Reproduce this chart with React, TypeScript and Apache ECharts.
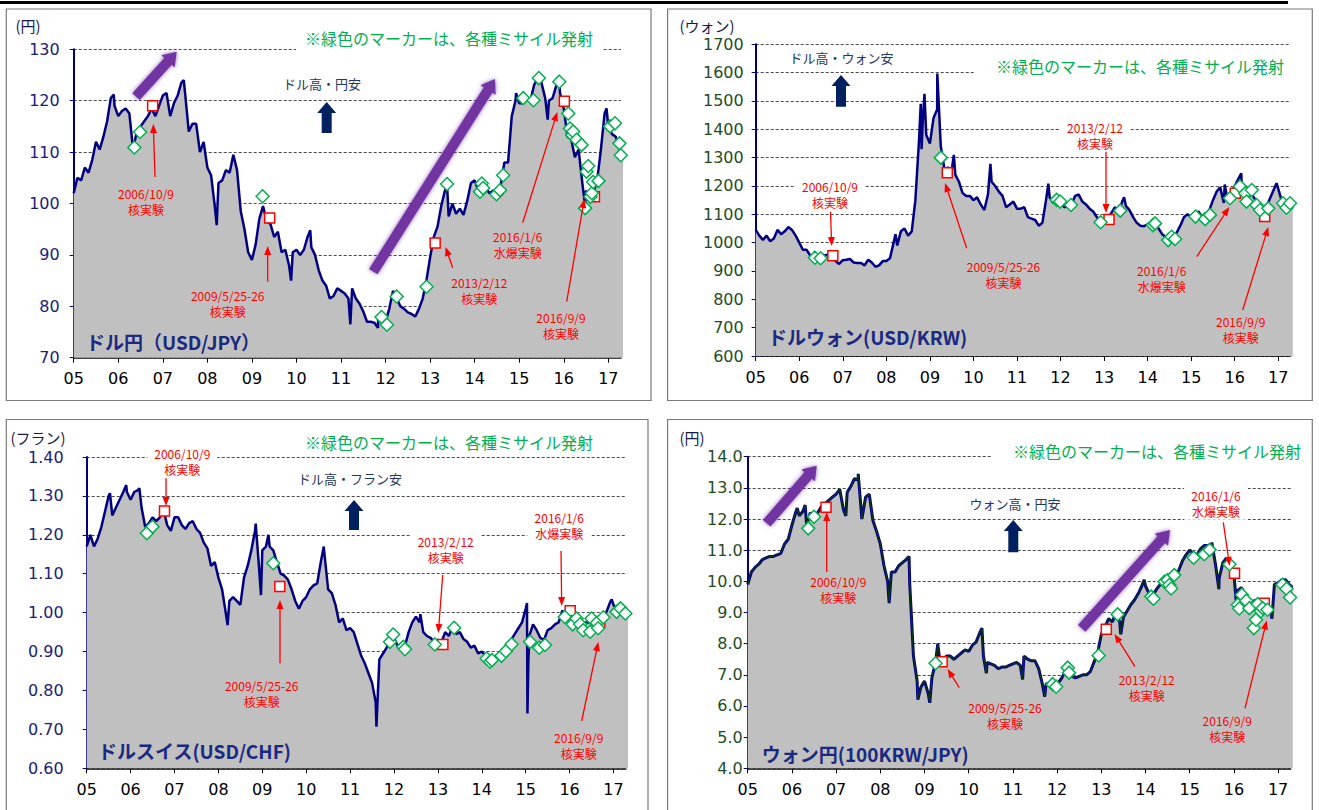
import React, { useEffect, useRef } from "react";
import * as echarts from "echarts";

// ---------------- DATA ----------------
// Monthly readings, Jan 2005 ... May 2017 (last one is clipped at the axis end)
const usdJpy = [
  102, 105, 104.5, 107, 106, 108.5, 112, 110.5, 113, 116, 120.5, 119,
  117, 118, 118.5, 117.5, 110.5, 114, 115, 116, 117, 118.5, 117, 119,
  121, 121.5, 117, 119.5, 121, 123.5, 121.5, 114, 115.5, 115.5, 110, 112,
  107, 105.5, 99.5, 104, 104.5, 106.5, 106, 109.5, 106.5, 98.5, 95, 90.5,
  89, 92, 97, 99.5, 96.5, 96, 93.5, 94.5, 90.5, 91, 88, 90.5,
  91, 90, 91, 93.5, 91.5, 90, 87, 85, 84, 81.5, 82, 83.5,
  83, 82.5, 81.5, 83.5, 81.5, 80.5, 79, 77, 77, 76.8, 77.5, 77.8,
  77, 79.5, 83, 81.5, 80, 79.5, 78.8, 78.5, 78, 79.5, 81.5, 85,
  89.5, 93.5, 95.5, 99.5, 102.5, 97.5, 100, 98, 99, 97.8, 100.5, 104,
  104.5, 102.5, 103, 103, 102, 102.5, 102, 103.5, 108, 108, 117, 120,
  119.5, 119.5, 120.5, 120, 123, 124.5, 123.5, 120.5, 120, 120.5, 123, 121.5,
  118.5, 113, 112.5, 109, 110.5, 104, 102.5, 101, 102, 104.5, 110.5, 117.5,
  115, 113.5, 113, 110.5, 110,
];
const usdJpyPeaks = [
  [2005.9, 121.2], [2007.47, 124.0], [2008.21, 95.8], [2009.88, 85.0], [2010.31, 94.8],
  [2011.21, 76.5], [2011.83, 75.8], [2013.38, 103.7], [2014.93, 121.5], [2015.44, 125.5],
  [2015.64, 116.3], [2015.9, 123.5], [2016.48, 99.5], [2016.96, 118.5],
];

const usdKrw = [
  1045, 1025, 1010, 1025, 1005, 1015, 1045, 1030, 1040, 1055, 1045, 1025,
  1000, 975, 975, 955, 950, 955, 960, 955, 958, 955, 935, 925,
  938, 940, 942, 930, 928, 928, 920, 940, 930, 915, 920, 935,
  935, 945, 1000, 990, 1040, 1050, 1025, 1040, 1150, 1360, 1420, 1380,
  1350, 1440, 1470, 1340, 1260, 1265, 1255, 1240, 1215, 1175, 1165, 1165,
  1150, 1160, 1135, 1115, 1170, 1215, 1200, 1180, 1165, 1125, 1135, 1145,
  1120, 1120, 1125, 1090, 1085, 1080, 1060, 1070, 1150, 1160, 1140, 1150,
  1150, 1125, 1130, 1135, 1165, 1170, 1145, 1135, 1120, 1110, 1090, 1075,
  1065, 1085, 1105, 1125, 1110, 1145, 1130, 1115, 1090, 1070, 1060, 1058,
  1065, 1070, 1075, 1050, 1030, 1020, 1015, 1025, 1035, 1060, 1090, 1100,
  1090, 1100, 1110, 1090, 1095, 1115, 1150, 1180, 1195, 1140, 1150, 1175,
  1200, 1225, 1170, 1150, 1170, 1165, 1145, 1110, 1105, 1135, 1165, 1195,
  1190, 1145, 1125, 1135, 1130,
];
const usdKrwPeaks = [
  [2008.21, 1030], [2008.79, 1490], [2008.81, 1330], [2008.875, 1525], [2009.17, 1597],
  [2009.55, 1310], [2010.39, 1278], [2011.72, 1208], [2013.46, 1160], [2014.52, 1008],
  [2015.77, 1205], [2016.15, 1245], [2016.96, 1210],
];

const usdChf = [
  1.17, 1.2, 1.17, 1.19, 1.22, 1.26, 1.3, 1.25, 1.27, 1.29, 1.31, 1.31,
  1.29, 1.31, 1.315, 1.27, 1.22, 1.23, 1.245, 1.235, 1.245, 1.265, 1.225, 1.21,
  1.245, 1.245, 1.225, 1.215, 1.23, 1.235, 1.215, 1.205, 1.18, 1.165, 1.12, 1.13,
  1.09, 1.06, 1.0, 1.03, 1.04, 1.03, 1.02, 1.09, 1.12, 1.16, 1.21, 1.13,
  1.16, 1.17, 1.17, 1.16, 1.13, 1.1, 1.095, 1.085, 1.06, 1.03, 1.01, 1.03,
  1.04, 1.06, 1.07, 1.075, 1.13, 1.15, 1.06, 1.05, 1.02, 0.975, 0.985, 0.955,
  0.96, 0.95, 0.92, 0.89, 0.87, 0.845, 0.82, 0.77, 0.88, 0.895, 0.91, 0.935,
  0.935, 0.915, 0.92, 0.915, 0.95, 0.975, 0.99, 0.975, 0.95, 0.94, 0.935, 0.925,
  0.93, 0.925, 0.95, 0.94, 0.965, 0.945, 0.95, 0.932, 0.925, 0.91, 0.915, 0.895,
  0.9, 0.89, 0.88, 0.88, 0.89, 0.895, 0.9, 0.91, 0.93, 0.945, 0.96, 0.975,
  1.01, 0.94, 0.97, 0.955, 0.935, 0.93, 0.955, 0.96, 0.97, 0.975, 1.005, 0.995,
  1.005, 1.0, 0.98, 0.965, 0.975, 0.975, 0.975, 0.965, 0.97, 0.985, 1.0, 1.025,
  1.02, 1.005, 1.0, 0.995, 0.99,
];
const usdChfPeaks = [
  [2005.53, 1.307], [2005.9, 1.328], [2006.2, 1.32], [2008.21, 0.968], [2008.85, 1.229],
  [2008.97, 1.045], [2009.14, 1.2], [2010.4, 1.17], [2011.6, 0.707], [2012.6, 0.996],
  [2013.37, 0.975], [2015.03, 1.025], [2015.04, 0.741], [2015.06, 0.87], [2016.96, 1.034],
];

const krwJpy = [
  9.9, 10.3, 10.45, 10.55, 10.7, 10.75, 10.8, 10.8, 10.85, 10.9, 11.2, 11.35,
  11.8, 12.2, 12.1, 12.25, 11.8, 12.2, 12.05, 12.2, 12.4, 12.5, 12.6, 12.7,
  12.8, 12.95, 12.3, 12.85, 13.05, 13.3, 13.25, 12.0, 12.7, 12.8, 11.95, 11.6,
  11.2, 10.5, 10.0, 10.3, 10.3, 10.5, 10.6, 10.7, 9.9, 7.6, 6.8, 6.6,
  6.8, 6.4, 6.9, 7.4, 7.6, 7.5, 7.6, 7.6, 7.5, 7.6, 7.7, 7.8,
  7.75, 7.95, 8.05, 8.35, 7.6, 7.4, 7.35, 7.3, 7.2, 7.25, 7.25, 7.3,
  7.35, 7.4, 7.3, 7.6, 7.5, 7.45, 7.45, 7.2, 6.7, 6.7, 6.75, 6.75,
  6.7, 6.85, 7.05, 7.25, 6.95, 6.9, 6.95, 7.0, 7.0, 7.1, 7.4, 7.7,
  8.3, 8.55, 8.8, 8.7, 9.0, 8.7, 8.85, 9.05, 9.25, 9.4, 9.6, 9.85,
  9.85, 9.6, 9.55, 9.75, 9.9, 10.0, 9.95, 10.05, 10.15, 10.35, 10.65, 10.85,
  11.0, 10.9, 10.85, 11.05, 11.15, 11.15, 10.9, 10.55, 10.1, 10.6, 10.75, 10.55,
  10.25, 9.7, 9.8, 9.6, 9.4, 9.35, 9.4, 9.2, 9.3, 9.25, 9.05, 9.9,
  9.95, 10.05, 10.05, 9.9, 9.8,
];
const krwJpyPeaks = [
  [2006.12, 12.35], [2006.3, 12.45], [2007.22, 12.1], [2007.5, 13.45], [2008.2, 9.3],
  [2008.65, 10.8], [2008.85, 6.2], [2009.12, 6.1], [2009.3, 8.0], [2010.3, 8.5],
  [2010.4, 7.05], [2011.22, 6.85], [2011.72, 6.3], [2012.25, 7.4], [2013.44, 8.3],
  [2013.97, 10.05], [2015.5, 11.25], [2015.66, 9.75], [2016.05, 9.4], [2016.86, 8.8],
];

// North Korean nuclear tests (red squares)
const nuclearDates = ["2006-10-09", "2009-05-25", "2013-02-12", "2016-01-06", "2016-09-09"];
const usdJpyNuclear = [119.0, 97.2, 92.3, 119.9, 101.3];
const usdKrwNuclear = [954, 1247, 1082, 1174, 1092];
const usdChfNuclear = [1.261, 1.067, 0.918, 1.005, 0.975];
const krwJpyNuclear = [12.38, 7.42, 8.46, 10.26, 9.3];

// Missile launches (green diamonds), [year, value]
const usdJpyMissiles = [
  [2006.36, 110.9], [2006.49, 113.9], [2009.24, 101.4], [2011.91, 77.9], [2012.03, 76.4],
  [2012.25, 81.9], [2012.92, 83.8], [2013.38, 103.8], [2014.12, 102.3], [2014.16, 103.9],
  [2014.19, 103.0], [2014.49, 101.8], [2014.57, 102.6], [2014.64, 105.5], [2015.09, 120.5],
  [2015.32, 120.1], [2015.44, 124.4], [2015.9, 123.7], [2016.1, 117.5], [2016.14, 114.6],
  [2016.19, 113.3], [2016.21, 114.0], [2016.29, 112.4], [2016.4, 111.4], [2016.48, 99.1],
  [2016.51, 106.2], [2016.55, 107.3], [2016.6, 101.3], [2016.63, 102.0], [2016.66, 104.2],
  [2016.78, 104.4], [2017.04, 115.0], [2017.15, 115.6], [2017.25, 111.7], [2017.28, 109.4],
];
const usdKrwMissiles = [
  [2006.36, 947], [2006.49, 945], [2009.25, 1300], [2011.91, 1151], [2011.99, 1145],
  [2012.24, 1133], [2012.92, 1072], [2013.37, 1113], [2014.12, 1062], [2014.17, 1068],
  [2014.47, 1009], [2014.55, 1021], [2014.63, 1013], [2015.1, 1092], [2015.32, 1083],
  [2015.43, 1098], [2015.89, 1157], [2016.12, 1198], [2016.24, 1174], [2016.27, 1145],
  [2016.39, 1186], [2016.5, 1133], [2016.58, 1115], [2016.77, 1121], [2017.11, 1139],
  [2017.19, 1123], [2017.27, 1139],
];
const usdChfMissiles = [
  [2006.37, 1.204], [2006.5, 1.221], [2009.25, 1.127], [2011.91, 0.925], [2011.98, 0.944],
  [2012.21, 0.912], [2012.25, 0.906], [2012.93, 0.918], [2013.37, 0.961], [2014.11, 0.882],
  [2014.19, 0.874], [2014.23, 0.878], [2014.45, 0.889], [2014.55, 0.901], [2014.68, 0.919],
  [2015.1, 0.925], [2015.31, 0.91], [2015.44, 0.917], [2015.89, 0.989], [2016.07, 0.97],
  [2016.16, 0.985], [2016.24, 0.97], [2016.31, 0.955], [2016.47, 0.951], [2016.5, 0.985],
  [2016.62, 0.974], [2016.65, 0.96], [2016.77, 0.988], [2017.07, 1.002], [2017.16, 1.011],
  [2017.27, 0.998],
];
const krwJpyMissiles = [
  [2006.37, 11.7], [2006.5, 12.07], [2009.25, 7.37], [2011.9, 6.7], [2011.98, 6.62],
  [2012.24, 7.23], [2012.27, 7.07], [2012.94, 7.62], [2013.37, 8.94], [2014.13, 9.51],
  [2014.18, 9.44], [2014.43, 9.99], [2014.5, 10.04], [2014.54, 9.88], [2014.58, 9.77],
  [2014.65, 10.2], [2015.09, 10.76], [2015.33, 10.87], [2015.45, 11.01], [2015.9, 10.55],
  [2016.09, 9.25], [2016.12, 9.13], [2016.18, 9.57], [2016.28, 9.38], [2016.35, 9.14],
  [2016.45, 8.5], [2016.5, 8.77], [2016.54, 9.27], [2016.61, 9.04], [2016.65, 9.14],
  [2016.76, 9.09], [2017.1, 9.89], [2017.19, 9.76], [2017.27, 9.48],
];

const yearTicks = [2005, 2006, 2007, 2008, 2009, 2010, 2011, 2012, 2013, 2014, 2015, 2016, 2017];

const missileNote = "※緑色のマーカーは、各種ミサイル発射";
const testDates = ["2006/10/9", "2009/5/25-26", "2013/2/12", "2016/1/6", "2016/9/9"];
const testKinds = ["核実験", "核実験", "核実験", "水爆実験", "核実験"];
const testWidths = [62, 80, 62, 56, 56];

// ---------------- HELPERS ----------------
const JP = '"Noto Sans CJK JP", "Noto Sans", sans-serif';
const NUM = '"DejaVu Sans", sans-serif';
const X_MIN = 2005;
const X_MAX = 2017.285;

function toYear(d: string) {
  const [y, m, dd] = d.split("-").map(Number);
  return y + (m - 1) / 12 + (dd - 1) / 365;
}
function buildLine(monthly: number[], peaks: number[][]) {
  const pts = monthly.map((v, i) => [X_MIN + i / 12, v]);
  return pts.concat(peaks).sort((a, b) => a[0] - b[0]);
}
function arrowPoly(x1: number, y1: number, x2: number, y2: number, sw: number, hw: number, hl: number) {
  const dx = x2 - x1, dy = y2 - y1, len = Math.hypot(dx, dy);
  const ux = dx / len, uy = dy / len, px = -uy, py = ux;
  const bx = x2 - ux * hl, by = y2 - uy * hl;
  return [
    [x1 + (px * sw) / 2, y1 + (py * sw) / 2],
    [bx + (px * sw) / 2, by + (py * sw) / 2],
    [bx + (px * hw) / 2, by + (py * hw) / 2],
    [x2, y2],
    [bx - (px * hw) / 2, by - (py * hw) / 2],
    [bx - (px * sw) / 2, by - (py * sw) / 2],
    [x1 - (px * sw) / 2, y1 - (py * sw) / 2],
  ];
}
function txt(x: number, y: number, text: string, o: any = {}) {
  return {
    type: "text", x, y, z: 30, silent: true,
    style: {
      text, fill: o.fill || "#000", fontSize: o.size || 13, fontFamily: o.family || JP,
      fontWeight: o.weight || "normal", align: o.align || "center", verticalAlign: "middle",
      backgroundColor: o.bg || undefined, padding: o.pad || undefined,
    },
  };
}
function poly(points: number[][], fill: string, extra: any = {}) {
  return { type: "polygon", z: 25, silent: true, shape: { points }, style: { fill, ...extra } };
}
function border(x: number, y: number, w: number, h: number) {
  return { type: "rect", z: 40, silent: true, shape: { x, y, width: w, height: h }, style: { fill: "none", stroke: "#7a7a7a", lineWidth: 1.2 } };
}

// ---------------- PANELS ----------------
const panels = [
  {
    grid: { left: 73.7, top: 49.3, width: 547.3, height: 308.4 },
    min: 70, max: 130, interval: 10, fmt: (v: number) => String(Math.round(v)), yColor: "#1c1c7c", yMargin: 14,
    line: buildLine(usdJpy, usdJpyPeaks), nuclear: usdJpyNuclear, missiles: usdJpyMissiles, inner: false,
    unit: { x: 28, y: 25, t: "(円)" },
    note: { x: 449, y: 38, pad: [6, 9, 6, 9] },
    dir: { x: 322, y: 83, t: "ドル高・円安" },
    upArrow: { x: 326.7, top: 102, bottom: 133 },
    title: { x: 86, y: 341.7, t: "ドル円（USD/JPY）" },
    labels: [[146, 194, false], [227.7, 296, false], [479.3, 283.3, false], [517.7, 236.7, false], [561, 317.7, false]],
    arrows: [[155, 177, 153.3, 124], [267.7, 281.7, 267.7, 246], [452.7, 267.7, 445.5, 247], [522.7, 222.7, 557.3, 112], [566.7, 301.7, 584.3, 199]],
    purple: [[136, 96.7, 176.7, 51.7], [373.3, 271.7, 495, 79]],
  },
  {
    grid: { left: 755.7, top: 44.3, width: 535, height: 311.7 },
    min: 600, max: 1700, interval: 100, fmt: (v: number) => String(Math.round(v)), yColor: "#1e4d1e", yMargin: 12,
    line: buildLine(usdKrw, usdKrwPeaks), nuclear: usdKrwNuclear, missiles: usdKrwMissiles, inner: false,
    unit: { x: 707, y: 25, t: "(ウォン)" },
    note: { x: 1136, y: 65.7, pad: [3, 14, 3, 22] },
    dir: { x: 841.5, y: 57.7, t: "ドル高・ウォン安" },
    upArrow: { x: 841, top: 75, bottom: 106.7 },
    title: { x: 768, y: 336.7, t: "ドルウォン(USD/KRW)" },
    labels: [[830, 186.7, true], [1003.5, 266.7, false], [1095, 127.7, true], [1161.7, 270.7, false], [1240.7, 321.7, false]],
    arrows: [[830.5, 211.7, 831.7, 246], [966.7, 248.3, 945, 183], [1106, 149, 1106, 213], [1196.7, 256.7, 1229.3, 207], [1242.7, 310, 1268.3, 227]],
    purple: [],
  },
  {
    grid: { left: 86.7, top: 457, width: 539.3, height: 311.3 },
    min: 0.6, max: 1.4, interval: 0.1, fmt: (v: number) => v.toFixed(2), yColor: "#1c1c7c", yMargin: 23,
    line: buildLine(usdChf, usdChfPeaks), nuclear: usdChfNuclear, missiles: usdChfMissiles, inner: false,
    unit: { x: 38, y: 437, t: "(フラン)" },
    note: { x: 449, y: 441.7, pad: [2, 8, 2, 8] },
    dir: { x: 350, y: 478.3, t: "ドル高・フラン安" },
    upArrow: { x: 354, top: 500, bottom: 530 },
    title: { x: 98, y: 750, t: "ドルスイス(USD/CHF)" },
    labels: [[182.3, 454.3, true], [261.7, 685.7, false], [445.7, 541.7, true], [559.3, 517.7, true], [578.7, 738.3, false]],
    arrows: [[166, 477, 166, 506], [280, 663.3, 280, 600], [442.7, 575, 438.3, 633], [561, 551, 561.7, 606], [581.7, 721, 598.3, 642]],
    purple: [],
  },
  {
    grid: { left: 747.7, top: 456.7, width: 543, height: 311.6 },
    min: 4, max: 14, interval: 1, fmt: (v: number) => v.toFixed(1), yColor: "#1e4d1e", yMargin: 5,
    line: buildLine(krwJpy, krwJpyPeaks), nuclear: krwJpyNuclear, missiles: krwJpyMissiles, inner: true,
    unit: { x: 692, y: 437, t: "(円)" },
    note: { x: 1150, y: 451, pad: [3, 8, 3, 22] },
    dir: { x: 1015, y: 503.3, t: "ウォン高・円安" },
    upArrow: { x: 1013.3, top: 520, bottom: 552.3 },
    title: { x: 761.7, y: 753.3, t: "ウォン円(100KRW/JPY)" },
    labels: [[838.3, 581.7, false], [1005, 708.3, false], [1146.7, 680, false], [1216, 495.7, true], [1227.3, 721, false]],
    arrows: [[826.7, 572, 826.7, 512], [959.3, 687.7, 947.5, 669], [1135, 666.7, 1114.5, 634], [1223.3, 522.3, 1229.6, 566], [1245, 708.3, 1266.7, 620.5]],
    purple: [[766.7, 523.3, 816.7, 465.7], [1081.7, 628.3, 1170, 530]],
  },
];

function buildOption() {
  const xLabel = (v: number) => (Math.abs(v - Math.round(v)) > 0.01 ? "" : String(Math.round(v) % 100).padStart(2, "0"));
  const nuclearYears = nuclearDates.map(toYear);

  const grid = panels.map((p) => ({ ...p.grid, containLabel: false, outerBoundsMode: "none" }));
  const xAxis = panels.map((p, i) => ({
    type: "value", gridIndex: i, min: X_MIN, max: X_MAX, interval: 1,
    axisLine: { show: true, onZero: false, lineStyle: { color: "#000", width: 1.5 } },
    axisTick: { show: true, inside: false, length: 5, customValues: yearTicks, lineStyle: { color: "#000", width: 1 } },
    axisLabel: { show: true, customValues: yearTicks, formatter: xLabel, color: "#000", fontSize: 16, fontFamily: NUM, margin: 13, hideOverlap: false },
    splitLine: { show: false },
  }));
  const yAxis = panels.map((p, i) => ({
    type: "value", gridIndex: i, min: p.min, max: p.max, interval: p.interval,
    axisLine: { show: true, onZero: false, lineStyle: { color: "#000080", width: 2 } },
    axisTick: { show: true, inside: false, length: 4, lineStyle: { color: "#000080", width: 1 } },
    axisLabel: { show: true, formatter: p.fmt, color: p.yColor, fontSize: 16, fontFamily: NUM, margin: p.yMargin, hideOverlap: false },
    splitLine: { show: true, lineStyle: { color: "#4a4a4a", width: 1, type: [3, 2] } },
  }));

  const series: any[] = [];
  panels.forEach((p, i) => {
    series.push({
      type: "line", xAxisIndex: i, yAxisIndex: i, data: p.line, symbol: "none", silent: true, clip: true, z: 2,
      lineStyle: { color: "#000080", width: p.inner ? 3 : 2.5 },
      areaStyle: { color: "#c0c0c0", opacity: 1, origin: "start" },
    });
    if (p.inner) {
      series.push({
        type: "line", xAxisIndex: i, yAxisIndex: i, data: p.line, symbol: "none", silent: true, clip: true, z: 3,
        lineStyle: { color: "#0e3a12", width: 1.1 },
      });
    }
    series.push({
      type: "scatter", xAxisIndex: i, yAxisIndex: i, symbol: "rect", symbolSize: 10, silent: true, z: 4,
      data: p.nuclear.map((v, k) => [nuclearYears[k], v]),
      itemStyle: { color: "#fff", borderColor: "#ff0000", borderWidth: 1.5, opacity: 1 },
    });
    series.push({
      type: "scatter", xAxisIndex: i, yAxisIndex: i, symbol: "diamond", symbolSize: 13, silent: true, z: 5,
      data: p.missiles,
      itemStyle: { color: "#fff", borderColor: "#00b050", borderWidth: 1.5, opacity: 1 },
    });
  });

  const G: any[] = [];
  G.push({ type: "rect", z: 40, silent: true, shape: { x: 0, y: 1, width: 1288, height: 3 }, style: { fill: "#000" } });
  G.push(border(6.3, 9, 644.7, 391.5));
  G.push(border(667.6, 9, 644.7, 391.5));
  G.push(border(6.3, 419.5, 641.7, 400));
  G.push(border(667.6, 419.5, 644.7, 400));

  panels.forEach((p) => {
    G.push(txt(p.unit.x, p.unit.y, p.unit.t, { size: 15, fill: "#1a1a4a" }));
    G.push(txt(p.note.x, p.note.y, missileNote, { size: 16, fill: "#00b050", bg: "#fff", pad: p.note.pad }));
    G.push(txt(p.dir.x, p.dir.y, p.dir.t, { size: 13, fill: "#1f3864" }));
    G.push(txt(p.title.x, p.title.y, p.title.t, { size: 19, weight: "bold", fill: "#1a2a80", align: "left" }));
    const a = p.upArrow;
    G.push(poly(arrowPoly(a.x, a.bottom, a.x, a.top, 10, 19, 11), "#002060"));
    p.purple.forEach((q) => {
      G.push(poly(arrowPoly(q[0], q[1], q[2], q[3], 10, 18, 13), "#7030a0", { shadowBlur: 4, shadowColor: "rgba(112,48,160,0.8)", opacity: 0.95 }));
    });
    p.labels.forEach((l, k) => {
      const cx = l[0] as number, y1 = (l[1] as number) - 0.5;
      if (l[2]) {
        const w = testWidths[k] + 8;
        G.push({ type: "rect", z: 28, silent: true, shape: { x: cx - w / 2, y: y1 - 8.5, width: w, height: 33 }, style: { fill: "#fff" } });
      }
      G.push(txt(cx, y1, testDates[k], { size: 12, fill: "#ff0000" }));
      G.push(txt(cx, y1 + 15.8, testKinds[k], { size: 12, fill: "#ff0000" }));
    });
    p.arrows.forEach((r) => {
      G.push(poly(arrowPoly(r[0], r[1], r[2], r[3], 1.3, 7, 9), "#ff0000"));
    });
  });

  return {
    animation: false,
    backgroundColor: "#fff",
    grid, xAxis, yAxis, series,
    graphic: { elements: G },
  };
}

export default function App() {
  const ref = useRef<HTMLDivElement>(null);
  useEffect(() => {
    if (!ref.current) return;
    const chart = echarts.init(ref.current, null, { renderer: "svg" });
    chart.setOption(buildOption() as any);
    return () => chart.dispose();
  }, []);
  return <div ref={ref} style={{ position: "absolute", left: 0, top: 0, width: 1319, height: 810, background: "#fff" }} />;
}
